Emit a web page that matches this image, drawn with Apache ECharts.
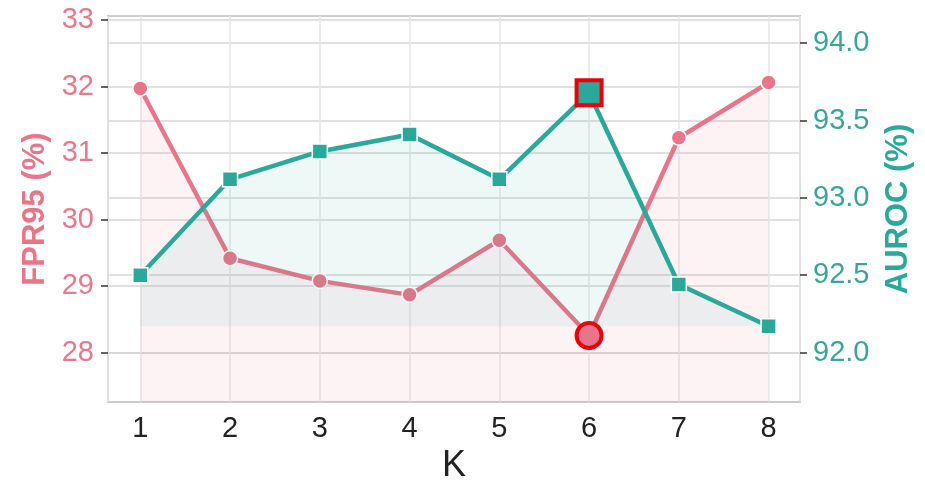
<!DOCTYPE html>
<html>
<head>
<meta charset="utf-8">
<script src="https://cdn.jsdelivr.net/npm/echarts@6/dist/echarts.min.js"></script>
<style>
  html, body { margin: 0; padding: 0; background: #fff; }
  #chart { width: 925px; height: 480px; }
</style>
</head>
<body>
<div id="chart"></div>
<script>
// data
const ks = [1, 2, 3, 4, 5, 6, 7, 8];
const fpr95 = [31.97, 29.42, 29.08, 28.87, 29.69, 28.26, 31.23, 32.06];
const auroc = [92.50, 93.12, 93.30, 93.41, 93.12, 93.68, 92.44, 92.17];
const fprTicks = [28, 29, 30, 31, 32, 33];
const aurocTicks = [92.0, 92.5, 93.0, 93.5, 94.0];
const bestK = 6;

const PINK = '#e8758a';
const TEAL = '#2ca89a';
const FONT = 'Liberation Sans, Arial, sans-serif';

const chart = echarts.init(document.getElementById('chart'));

// 把最佳 K 的点单独标红
const toData = (vals) => vals.map((v, i) => {
  if (ks[i] === bestK) {
    return {
      value: [ks[i], v],
      symbolSize: 25,
      itemStyle: { borderColor: '#e8000b', borderWidth: 4 }
    };
  }
  return [ks[i], v];
});

const options = {
  animation: false,
  grid: {
    left: 108, right: 125, top: 16, bottom: 78,
    outerBoundsMode: 'none',
    containLabel: false,
    show: true,
    borderColor: '#cccccc',
    borderWidth: 2,
    backgroundColor: 'transparent'
  },
  xAxis: {
    type: 'value',
    min: 0.64,
    max: 8.35,
    splitNumber: 8,
    name: 'K',
    nameLocation: 'middle',
    nameGap: 40,
    nameTextStyle: { color: '#222', fontSize: 36, fontFamily: FONT },
    axisLine: { show: false },
    axisTick: { show: false },
    axisLabel: {
      customValues: ks,
      color: '#222',
      fontSize: 29,
      fontFamily: FONT,
      margin: 12
    },
    splitLine: { show: true, lineStyle: { color: '#e6e6e6', width: 1.5 } }
  },
  yAxis: [
    {
      type: 'value',
      position: 'left',
      min: 27.26,
      max: 33.06,
      splitNumber: 5,
      name: 'FPR95 (%)',
      nameLocation: 'middle',
      nameRotate: 90,
      nameGap: 56,
      nameTextStyle: { color: PINK, fontSize: 31, fontWeight: 'bold', fontFamily: FONT },
      axisLine: { show: false },
      axisTick: { show: true, customValues: fprTicks, length: 7, lineStyle: { color: '#333', width: 1.5 } },
      axisLabel: {
        customValues: fprTicks,
        color: '#e5798d',
        fontSize: 29,
        fontFamily: FONT,
        margin: 14
      },
      splitLine: { show: true, lineStyle: { color: '#d6d6d6', width: 1.5 } }
    },
    {
      type: 'value',
      position: 'right',
      min: 91.68,
      max: 94.176,
      splitNumber: 5,
      name: 'AUROC (%)',
      nameLocation: 'middle',
      nameRotate: 90,
      nameGap: 83,
      nameTextStyle: { color: TEAL, fontSize: 31, fontWeight: 'bold', fontFamily: FONT },
      axisLine: { show: false },
      axisTick: { show: true, customValues: aurocTicks, length: 7, lineStyle: { color: '#333', width: 1.5 } },
      axisLabel: {
        customValues: aurocTicks,
        color: '#3aa597',
        fontSize: 29,
        fontFamily: FONT,
        margin: 13,
        formatter: (v) => v.toFixed(1)
      },
      splitLine: { show: true, lineStyle: { color: '#d6d6d6', width: 1.5 } }
    }
  ],
  series: [
    {
      name: 'FPR95',
      type: 'line',
      yAxisIndex: 0,
      data: toData(fpr95),
      symbol: 'circle',
      symbolSize: 15,
      lineStyle: { color: PINK, width: 4.5 },
      itemStyle: { color: PINK, borderColor: '#fff', borderWidth: 1.5 },
      areaStyle: { color: 'rgba(232,117,138,0.12)', origin: 'start' },
      z: 2
    },
    {
      name: 'AUROC',
      type: 'line',
      yAxisIndex: 1,
      data: toData(auroc),
      symbol: 'rect',
      symbolSize: 15,
      lineStyle: { color: TEAL, width: 4.5 },
      itemStyle: { color: TEAL, borderColor: '#fff', borderWidth: 1.5 },
      areaStyle: { color: 'rgba(44,168,154,0.11)', origin: Math.min(...auroc) },
      z: 3
    }
  ]
};

chart.setOption(options);
</script>
</body>
</html>
